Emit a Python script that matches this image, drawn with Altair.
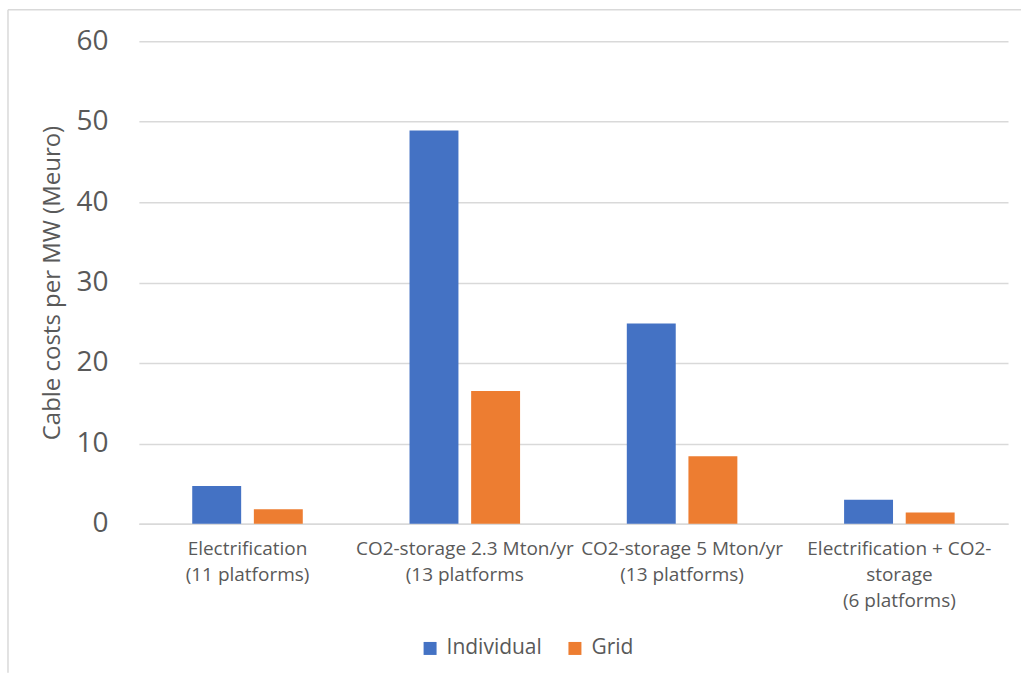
import altair as alt
import pandas as pd

categories = [
    "Electrification\n(11 platforms)",
    "CO2-storage 2.3 Mton/yr\n(13 platforms",
    "CO2-storage 5 Mton/yr\n(13 platforms)",
    "Electrification + CO2-\nstorage\n(6 platforms)",
]
series = ["Individual", "Grid"]
individual = [4.7, 48.9, 24.9, 3.0]
grid = [1.8, 16.5, 8.4, 1.4]
y_ticks = [0, 10, 20, 30, 40, 50, 60]
colors = ["#4472C4", "#ED7D31"]

rows = []
for c, a, b in zip(categories, individual, grid):
    rows.append({"category": c, "series": "Individual", "value": a})
    rows.append({"category": c, "series": "Grid", "value": b})
df = pd.DataFrame(rows)

FONT = "Open Sans"
TXT = "#595959"

bars = alt.Chart(df).mark_bar().encode(
    x=alt.X(
        "category:N",
        sort=categories,
        scale=alt.Scale(paddingInner=0, paddingOuter=0),
        axis=alt.Axis(
            title=None,
            labelAngle=0,
            labelExpr="split(datum.label, '\\n')",
            labelFontSize=19,
            labelColor=TXT,
            labelFont=FONT,
            labelLineHeight=26,
            labelPadding=16,
            labelLimit=400,
            labelOverlap=False,
            ticks=False,
            tickSize=0,
            domain=True,
            domainColor="#d9d9d9",
            domainWidth=1.5,
        ),
    ),
    xOffset=alt.XOffset(
        "series:N",
        sort=series,
        scale=alt.Scale(paddingInner=0.206, paddingOuter=0.866),
    ),
    y=alt.Y(
        "value:Q",
        scale=alt.Scale(domain=[0, 60], nice=False),
        axis=alt.Axis(
            title="Cable costs per MW (Meuro)",
            values=y_ticks,
            titleFontSize=24,
            titleFont=FONT,
            titleFontWeight="normal",
            titleColor=TXT,
            titlePadding=11,
            labelFontSize=28,
            labelFont=FONT,
            labelColor=TXT,
            labelPadding=31,
            ticks=False,
            tickSize=0,
            domain=False,
            grid=True,
            gridColor="#d9d9d9",
            gridWidth=1.5,
        ),
    ),
    color=alt.Color(
        "series:N",
        sort=series,
        scale=alt.Scale(domain=series, range=colors),
        legend=alt.Legend(
            title=None,
            orient="none",
            legendX=281,
            legendY=597,
            direction="horizontal",
            symbolType="square",
            symbolSize=169,
            symbolStrokeWidth=0,
            labelFontSize=21,
            labelFont=FONT,
            labelColor=TXT,
            labelOffset=6,
            columnPadding=22,
            padding=0,
        ),
    ),
)

frame_src = alt.Data(values=[{}])
frame_top = alt.Chart(frame_src).mark_rule(stroke="#d9d9d9", strokeWidth=1.5).encode(
    x=alt.value(-131), x2=alt.value(883), y=alt.value(-31.5)
)
frame_left = alt.Chart(frame_src).mark_rule(stroke="#d9d9d9", strokeWidth=1.5).encode(
    x=alt.value(-131), y=alt.value(-31.5), y2=alt.value(632)
)

chart = alt.layer(frame_top, frame_left, bars).properties(
    width=870,
    height=483,
    padding={"left": 7, "top": 8, "right": 0, "bottom": 0},
    background="white",
).configure_view(stroke=None)

chart.save("out.html", embed_options={"renderer": "svg", "actions": False})
